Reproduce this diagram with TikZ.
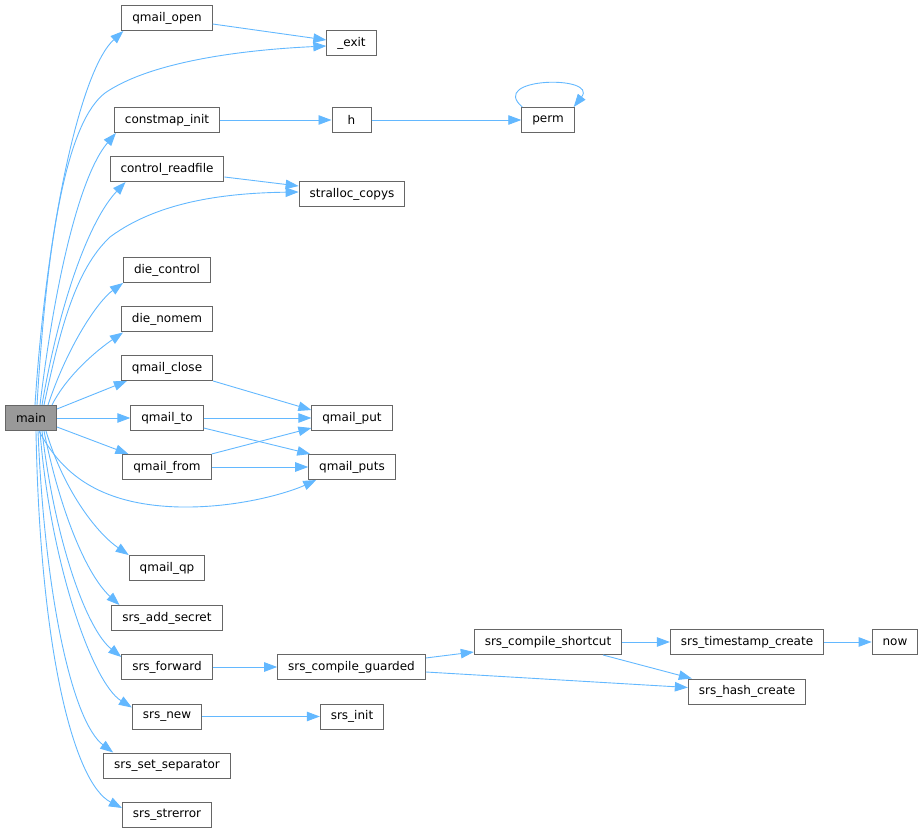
\documentclass[tikz,border=0pt]{standalone}
\usepackage{fontspec}
\setmainfont{DejaVu Sans}
\usepackage{xcolor}
\usepackage{tikz}
\usetikzlibrary{arrows.meta}
\definecolor{edgeblue}{HTML}{63B8FF}
\definecolor{boxgray}{HTML}{666666}
\definecolor{rootfill}{HTML}{999999}

\begin{document}
\begin{tikzpicture}[
  x=1pt, y=-1pt,
  func/.style={rectangle, draw=boxgray, fill=white, line width=1pt, minimum height=25pt, minimum width=39pt, inner xsep=10.5pt, inner ysep=0pt, font=\fontsize{12}{14}\selectfont},
  root/.style={func, fill=rootfill},
  call/.style={-{Triangle[length=13pt,width=9.5pt]}, line width=0.9pt, edgeblue}
]
\useasboundingbox (0,0) rectangle (924,834);

% Caller
\node[root] (main) at (31,418) {main};

% First column of callees
\node[func] (qmail_open) at (167,18) {qmail\_open};
\node[func] (constmap_init) at (167,120) {constmap\_init};
\node[func] (control_readfile) at (167,169) {control\_readfile};
\node[func] (die_control) at (167,270) {die\_control};
\node[func] (die_nomem) at (167,319.5) {die\_nomem};
\node[func] (qmail_close) at (167,368) {qmail\_close};
\node[func] (qmail_to) at (167,418) {qmail\_to};
\node[func] (qmail_from) at (167,467) {qmail\_from};
\node[func] (qmail_qp) at (167,568) {qmail\_qp};
\node[func] (srs_add_secret) at (167,618) {srs\_add\_secret};
\node[func] (srs_forward) at (167,667) {srs\_forward};
\node[func] (srs_new) at (167,716.5) {srs\_new};
\node[func] (srs_set_separator) at (167,765.5) {srs\_set\_separator};
\node[func] (srs_strerror) at (167,815) {srs\_strerror};

% Second column
\node[func] (_exit) at (351.5,43.5) {\_exit};
\node[func] (h) at (351.5,120) {h};
\node[func] (stralloc_copys) at (352,194) {stralloc\_copys};
\node[func] (qmail_put) at (352,418) {qmail\_put};
\node[func] (qmail_puts) at (352,467) {qmail\_puts};
\node[func] (srs_compile_guarded) at (351.5,667) {srs\_compile\_guarded};
\node[func] (srs_init) at (352,716.5) {srs\_init};

% Third to fifth column
\node[func] (perm) at (548,120) {perm};
\node[func] (srs_compile_shortcut) at (548,642) {srs\_compile\_shortcut};
\node[func] (srs_timestamp_create) at (747,642) {srs\_timestamp\_create};
\node[func] (srs_hash_create) at (747,691.5) {srs\_hash\_create};
\node[func] (now) at (895,642) {now};

% Arrows - main upwards
\draw[call] ([xshift=4pt]main.north) .. controls +(12,-185) and +(-42,38) .. ([xshift=2pt]qmail_open.south west);
\draw[call] ([xshift=6pt]main.north) .. controls (48,220) and (70,120) .. (105,93) .. controls (150,62) and (240,50) .. ([yshift=-2.5pt]_exit.west);
\draw[call] ([xshift=9pt]main.north) .. controls +(15,-125) and +(-36,42) .. ([xshift=2pt]constmap_init.south west);
\draw[call] ([xshift=11pt]main.north) .. controls +(18,-105) and +(-36,38) .. ([xshift=16pt]control_readfile.south west);
\draw[call] ([xshift=13pt]main.north) .. controls (60,330) and (75,270) .. (110,237) .. controls (160,200) and (230,193) .. ([yshift=2pt]stralloc_copys.west);
\draw[call] ([xshift=17pt]main.north) .. controls +(20,-60) and +(-25,18) .. (die_control.south west);
\draw[call] ([xshift=21pt]main.north) .. controls +(15,-30) and +(-25,17) .. ([xshift=2pt]die_nomem.south west);

% Arrows - main to the right
\draw[call] ([yshift=9pt]main.east) -- ([xshift=6pt]qmail_close.south west);
\draw[call] (main.east) -- (qmail_to.west);
\draw[call] ([yshift=-9pt]main.east) -- ([xshift=6pt]qmail_from.north west);
\draw[call] ([xshift=8pt]main.south) .. controls (60,470) and (95,505) .. (180,507) .. controls (240,508) and (290,492) .. ([xshift=8pt]qmail_puts.south west);

% Arrows - main downwards
\draw[call] ([xshift=15pt]main.south) .. controls +(18,60) and +(-32,-22) .. (qmail_qp.north west);
\draw[call] ([xshift=13pt]main.south) .. controls +(16,80) and +(-33,-30) .. ([xshift=8pt]srs_add_secret.north west);
\draw[call] ([xshift=11pt]main.south) .. controls +(13,110) and +(-35,-28) .. ([yshift=-3pt]srs_forward.north west);
\draw[call] ([xshift=9pt]main.south) .. controls +(10,130) and +(-40,-25) .. ([yshift=-4pt]srs_new.north west);
\draw[call] ([xshift=7pt]main.south) .. controls +(7,170) and +(-40,-30) .. ([xshift=10pt]srs_set_separator.north west);
\draw[call] ([xshift=5pt]main.south) .. controls +(4,220) and +(-48,-25) .. ([yshift=-6pt]srs_strerror.north west);

% Arrows - upper part
\draw[call] ([yshift=-6pt]qmail_open.east) -- ([yshift=3.5pt]_exit.west);
\draw[call] (constmap_init.east) -- (h.west);
\draw[call] (h.east) -- (perm.west);
\draw[call] ([xshift=1pt]perm.north west) .. controls +(-35,-30) and +(25,-32) .. ([xshift=-1pt]perm.north east);
\draw[call] ([yshift=-8pt]control_readfile.east) -- ([yshift=8pt]stralloc_copys.west);

% Arrows - qmail output
\draw[call] (qmail_close.south east) -- ([yshift=8pt]qmail_put.west);
\draw[call] (qmail_to.east) -- (qmail_put.west);
\draw[call] ([yshift=-10pt]qmail_to.east) -- ([xshift=2pt]qmail_puts.north west);
\draw[call] (qmail_from.north east) -- ([yshift=-10pt]qmail_put.west);
\draw[call] (qmail_from.east) -- (qmail_puts.west);

% Arrows - srs
\draw[call] (srs_forward.east) -- (srs_compile_guarded.west);
\draw[call] (srs_new.east) -- (srs_init.west);
\draw[call] ([yshift=9pt]srs_compile_guarded.east) -- ([yshift=-10pt]srs_compile_shortcut.west);
\draw[call] ([yshift=-5pt]srs_compile_guarded.east) -- ([yshift=4pt]srs_hash_create.west);
\draw[call] (srs_compile_shortcut.east) -- (srs_timestamp_create.west);
\draw[call] ([xshift=55pt]srs_compile_shortcut.south) -- ([xshift=4pt]srs_hash_create.north west);
\draw[call] (srs_timestamp_create.east) -- (now.west);

\end{tikzpicture}
\end{document}
